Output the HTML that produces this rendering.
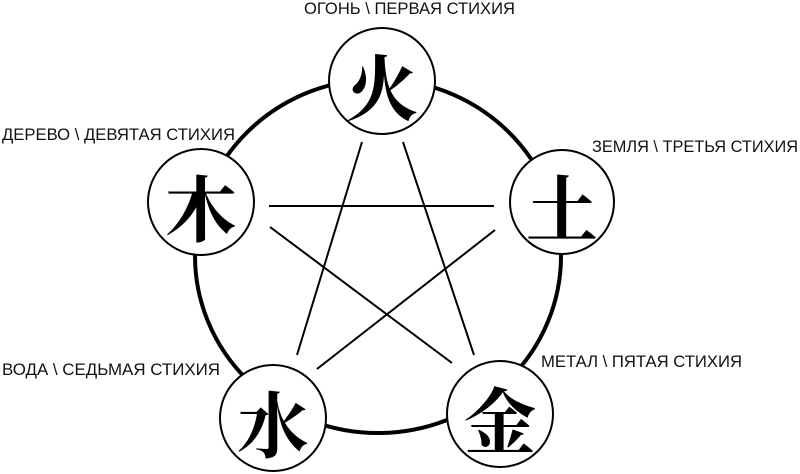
<!DOCTYPE html>
<html><head><meta charset="utf-8"><style>
html,body{margin:0;padding:0;background:#fff;width:800px;height:474px;overflow:hidden}
svg{display:block}
.l{font-family:"Liberation Sans",sans-serif;font-size:17px;fill:#111}
.c{font-family:"Noto Serif CJK SC","Noto Sans CJK SC",serif;font-weight:bold;font-size:72px;fill:#000;text-anchor:middle;dominant-baseline:central}
</style></head><body>
<svg width="800" height="474" viewBox="0 0 800 474" xmlns="http://www.w3.org/2000/svg">
<ellipse cx="378" cy="256" rx="183" ry="177" fill="none" stroke="#000" stroke-width="4"/>
<g stroke="#000" stroke-width="2" fill="none">
<line x1="362" y1="142" x2="297" y2="355"/>
<line x1="403" y1="142" x2="474" y2="355"/>
<line x1="269" y1="206" x2="494" y2="206"/>
<line x1="270" y1="227" x2="452" y2="363"/>
<line x1="495" y1="230" x2="317" y2="369"/>
</g>
<g fill="#fff" stroke="#000" stroke-width="2">
<circle cx="382" cy="81" r="53"/>
<circle cx="201" cy="202" r="53"/>
<circle cx="562" cy="202" r="52"/>
<circle cx="273" cy="418" r="53"/>
<circle cx="500" cy="414" r="53"/>
</g>
<text class="c" x="382" y="84">火</text>
<text class="c" x="201" y="205">木</text>
<text class="c" x="562" y="205">土</text>
<text class="c" x="273" y="421">水</text>
<text class="c" x="500" y="417">金</text>
<text class="l" x="304" y="14" textLength="211" lengthAdjust="spacingAndGlyphs">ОГОНЬ \ ПЕРВАЯ СТИХИЯ</text>
<text class="l" x="2" y="140" textLength="233" lengthAdjust="spacingAndGlyphs">ДЕРЕВО \ ДЕВЯТАЯ СТИХИЯ</text>
<text class="l" x="592" y="152" textLength="206" lengthAdjust="spacingAndGlyphs">ЗЕМЛЯ \ ТРЕТЬЯ СТИХИЯ</text>
<text class="l" x="2" y="375" textLength="218" lengthAdjust="spacingAndGlyphs">ВОДА \ СЕДЬМАЯ СТИХИЯ</text>
<text class="l" x="541" y="367" textLength="201" lengthAdjust="spacingAndGlyphs">МЕТАЛ \ ПЯТАЯ СТИХИЯ</text>
</svg>
</body></html>
